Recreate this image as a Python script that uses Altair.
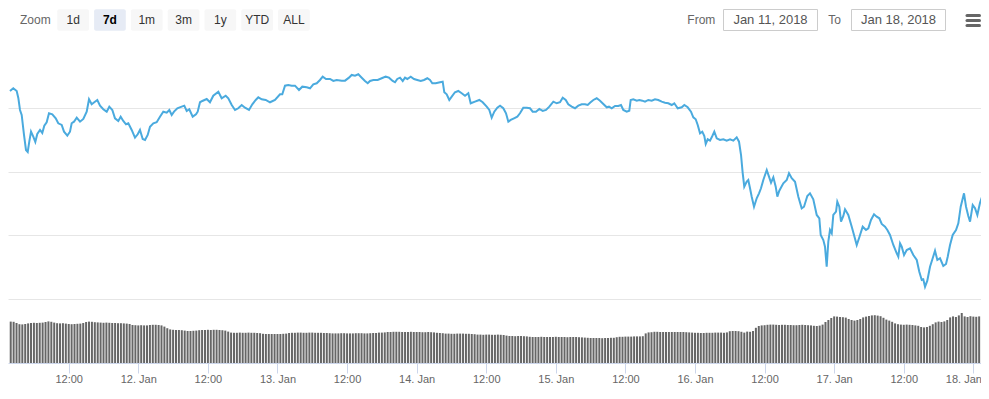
import altair as alt
import pandas as pd

FONT = "Liberation Sans"
BASE_MS = 1515628800000  # 2018-01-11 00:00 UTC
HOUR_MS = 3600000

# ---- price series: hours since 11 Jan 00:00 UTC, price ----
HOURS = [
    1.87, 2.44, 3.03, 3.31, 3.60, 3.89, 4.29, 4.63, 4.93, 5.20,
    5.50, 5.89, 6.24, 6.58, 7.05, 7.44, 7.79, 8.20, 8.60, 9.17,
    9.76, 10.20, 10.79, 11.19, 11.76, 12.22, 12.51, 12.91, 13.38, 13.95,
    14.52, 15.10, 15.50, 15.96, 16.41, 16.93, 17.40, 17.96, 18.55, 19.00,
    19.52, 19.98, 20.55, 20.96, 21.41, 21.88, 22.28, 22.86, 23.43, 23.90,
    24.29, 24.76, 25.16, 25.62, 26.02, 26.59, 27.17, 27.74, 28.31, 28.90,
    29.35, 29.76, 30.16, 30.73, 31.48, 31.93, 32.35, 32.79, 33.38, 33.95,
    34.24, 34.64, 35.04, 35.80, 36.36, 36.93, 37.80, 38.38, 39.07, 39.52,
    40.11, 40.68, 41.24, 41.83, 42.40, 43.09, 43.66, 44.25, 44.69, 45.28,
    45.97, 46.71, 47.57, 48.44, 48.83, 49.30, 49.87, 50.45, 51.02, 51.71,
    52.28, 53.04, 53.61, 54.18, 54.77, 55.33, 55.80, 56.37, 57.06, 57.63,
    58.21, 59.08, 59.65, 60.33, 60.80, 61.37, 61.94, 62.53, 63.09, 63.56,
    63.96, 64.53, 65.28, 65.97, 66.66, 67.23,
    67.87, 68.27, 68.66, 69.13, 69.60, 69.99, 70.39, 70.98, 71.54, 72.11,
    72.70, 73.27, 73.84, 74.30, 74.70, 75.29, 76.03, 76.49, 76.77, 77.18,
    77.63, 78.05, 78.61, 79.18, 79.77, 80.34, 80.91, 81.32, 82.06, 82.81,
    83.39, 84.08, 84.53, 84.94, 85.39, 85.91, 86.38, 86.94, 87.41, 87.81,
    88.22, 88.79, 89.36, 89.82, 90.39, 90.98, 91.55, 92.01, 92.58, 93.15,
    93.74, 94.31, 94.88, 95.57, 96.15, 96.72, 97.19, 97.71, 98.15, 98.74,
    99.31, 99.88, 100.46, 101.03,
    101.50, 101.90, 102.47, 103.05, 103.62, 104.19, 104.78, 105.17, 105.64, 106.21,
    106.78, 107.24, 107.64, 108.22, 108.67, 108.91, 109.36, 109.95, 110.40, 110.91,
    111.38, 111.95, 112.54, 113.10, 113.67, 114.26, 114.83, 115.40, 115.98, 116.43,
    117.02, 117.71, 118.16, 118.74, 119.31, 119.71, 120.12, 120.47, 120.87, 121.26,
    121.61, 121.85, 122.19, 122.59, 122.99, 123.33, 123.75, 124.31, 124.88, 125.47,
    126.04, 126.61, 127.19, 127.59, 127.94, 128.23, 128.50, 128.92, 129.19, 129.49,
    129.78, 130.18, 130.64, 131.04, 131.38, 131.78, 132.37, 132.76, 133.11, 133.51,
    133.92, 134.20, 134.54,
    135.23, 135.82, 136.21, 136.68, 137.25, 137.82, 138.40, 138.80, 139.37, 139.83,
    140.40, 140.99, 141.44, 141.68, 142.13, 142.42, 142.71, 142.99, 143.28, 143.58,
    143.85, 144.32, 144.54, 144.89, 145.18, 145.58, 145.87, 146.44, 147.03, 147.42,
    147.89, 148.34, 148.92, 149.49, 149.89, 150.35, 150.87, 151.34, 151.79, 152.20,
    152.77, 153.17, 153.63, 154.20, 154.79, 155.06, 155.36, 155.65, 156.05, 156.51,
    157.08, 157.65, 158.24, 158.68, 159.10, 159.37, 159.67, 160.06, 160.53, 160.99,
    161.39, 161.79, 162.25, 162.82, 163.29, 163.58, 163.98, 164.44, 165.01, 165.41,
    165.82, 166.39, 166.74, 167.13, 167.43, 167.89, 168.29, 168.69, 169.15, 169.72,
    170.01,
]

PRICE = [
    1453.4, 1461.9, 1453.4, 1431.4, 1393.7, 1378.0, 1315.2, 1268.1, 1261.8, 1294.1,
    1325.5, 1309.8, 1293.2, 1318.3, 1330.9, 1321.5, 1344.4, 1355.1, 1383.3, 1380.2,
    1367.6, 1351.9, 1346.6, 1325.5, 1313.0, 1325.5, 1351.9, 1356.9, 1369.5, 1356.9,
    1365.4, 1388.4, 1427.3, 1411.6, 1417.9, 1425.1, 1407.2, 1395.9, 1388.4, 1404.1,
    1393.7, 1367.6, 1359.2, 1372.7, 1359.2, 1348.8, 1351.9, 1330.9, 1306.7, 1317.4,
    1330.9, 1302.6, 1299.5, 1315.2, 1341.2, 1351.9, 1355.1, 1372.7, 1388.4, 1385.2,
    1393.7, 1378.0, 1388.4, 1399.1, 1404.1, 1407.2, 1390.6, 1395.9, 1372.7, 1380.2,
    1388.4, 1417.9, 1422.0, 1428.3, 1417.9, 1438.6, 1451.2, 1430.5, 1438.6, 1430.5,
    1409.4, 1393.7, 1399.1, 1409.4, 1400.9, 1393.7, 1411.6, 1425.1, 1433.6, 1427.3,
    1425.1, 1417.9, 1425.1, 1443.0, 1443.0, 1470.0, 1472.2, 1470.0, 1470.0, 1456.5,
    1466.9, 1465.0, 1461.9, 1474.4, 1477.6, 1487.9, 1498.3, 1491.1, 1491.1, 1484.8,
    1487.9, 1485.8, 1485.8, 1495.2, 1503.7, 1501.5, 1505.8, 1495.2, 1484.8, 1477.6,
    1484.8, 1487.9, 1487.9, 1493.3, 1498.3, 1495.2,
    1484.8, 1480.7, 1491.1, 1495.2, 1484.8, 1495.2, 1491.1, 1498.3, 1491.1, 1487.9,
    1484.8, 1487.9, 1493.3, 1487.9, 1477.6, 1477.6, 1480.7, 1482.6, 1449.3, 1443.0,
    1425.1, 1435.5, 1449.3, 1453.4, 1446.2, 1438.6, 1446.2, 1414.7, 1419.8, 1425.1,
    1417.9, 1404.1, 1393.7, 1369.5, 1388.4, 1400.9, 1407.2, 1399.1, 1383.3, 1356.9,
    1362.3, 1367.6, 1372.7, 1383.3, 1400.9, 1400.9, 1399.1, 1388.4, 1388.4, 1396.8,
    1390.6, 1393.7, 1404.1, 1419.8, 1414.7, 1417.9, 1432.3, 1425.1, 1411.6, 1404.1,
    1399.1, 1407.2, 1411.6, 1411.6,
    1409.4, 1416.6, 1425.1, 1430.5, 1422.9, 1412.6, 1402.2, 1404.1, 1399.1, 1406.3,
    1406.3, 1409.4, 1393.7, 1388.4, 1391.5, 1425.1, 1427.3, 1422.9, 1425.1, 1422.9,
    1419.8, 1425.1, 1422.9, 1427.3, 1425.1, 1419.8, 1416.6, 1414.7, 1409.4, 1414.7,
    1399.1, 1402.2, 1409.4, 1402.2, 1388.4, 1370.8, 1364.5, 1346.6, 1320.5, 1325.5,
    1312.0, 1286.9, 1301.7, 1297.3, 1312.0, 1325.5, 1304.8, 1299.5, 1301.7, 1297.3,
    1301.7, 1297.3, 1307.9, 1294.1, 1252.3, 1194.9, 1152.8, 1168.5, 1173.8, 1147.7,
    1121.4, 1089.9, 1116.3, 1132.0, 1147.7, 1173.8, 1205.2, 1184.2, 1165.3, 1182.3,
    1152.8, 1121.4, 1140.2,
    1163.4, 1173.8, 1194.9, 1179.2, 1168.5, 1121.4, 1084.9, 1089.9, 1123.6, 1132.0,
    1113.2, 1063.9, 1053.5, 1001.0, 985.3, 964.3, 901.5, 980.0, 1016.7, 1006.4,
    1063.9, 1074.2, 1105.6, 1089.9, 1042.8, 1060.7, 1081.8, 1063.9, 1027.1, 1001.0,
    969.6, 993.8, 1027.1, 1016.7, 1022.1, 1048.2, 1066.1, 1058.5, 1053.5, 1035.6,
    1027.1, 1016.7, 1001.0, 969.6, 943.6, 932.9, 975.0, 964.3, 938.2, 953.9,
    959.3, 938.2, 922.5, 885.8, 859.7, 861.9, 838.6, 857.5, 901.5, 927.9,
    951.7, 922.5, 927.9, 903.7, 909.9, 932.9, 969.6, 1001.0, 1016.7, 1037.8,
    1089.9, 1132.0, 1089.9, 1060.7, 1042.8, 1095.3, 1084.9, 1063.9, 1102.5, 1132.0,
    1119.5,
]

# ---- volume columns: one every 30 minutes from 11 Jan 02:00 UTC ----
VOL_START_H = 2.0
VOL_STEP_H = 0.5
VOLUME = [
    2070, 2060, 2000, 1940, 1930, 1950, 1980, 2000, 2010, 2000,
    2010, 2020, 2050, 2080, 2060, 2020, 1990, 1980, 1990, 1970,
    1950, 1940, 1950, 1960, 1970, 2000, 2050, 2070, 2060, 2040,
    2030, 2020, 2010, 2020, 2010, 2000, 2000, 1990, 1990, 1980,
    1970, 1950, 1900, 1890, 1880, 1890, 1880, 1880, 1900, 1910,
    1910, 1900, 1880, 1820, 1740, 1680, 1660, 1650, 1650, 1640,
    1620, 1600, 1600, 1610, 1620, 1640, 1650, 1650, 1660, 1650,
    1660, 1660, 1650, 1640, 1620, 1570, 1520, 1510, 1510, 1520,
    1510, 1510, 1520, 1510, 1510, 1500, 1490, 1460, 1450, 1450,
    1450, 1450, 1450, 1450, 1460, 1470, 1500, 1510, 1510, 1520,
    1520, 1510, 1510, 1520, 1520, 1510, 1510, 1510, 1500, 1500,
    1490, 1480, 1480, 1480, 1490, 1490, 1480, 1480, 1480, 1490,
    1490, 1490, 1480, 1480, 1490, 1500, 1500, 1520, 1520, 1530,
    1550, 1550, 1560, 1560, 1560, 1550, 1550, 1550, 1560, 1550,
    1550, 1550, 1540, 1540, 1550, 1540, 1530, 1510, 1500, 1490,
    1470, 1470, 1460, 1460, 1470, 1470, 1470, 1460, 1460, 1450,
    1440, 1420, 1420, 1410, 1420, 1420, 1410, 1410, 1420, 1410,
    1400, 1370, 1350, 1350, 1340, 1350, 1350, 1340, 1330, 1310,
    1300, 1300, 1300, 1310, 1300, 1300, 1300, 1300, 1310, 1300,
    1300, 1300, 1290, 1300, 1300, 1300, 1290, 1280, 1270, 1260,
    1250, 1250, 1250, 1250, 1240, 1250, 1250, 1260, 1260, 1290,
    1310, 1310, 1320, 1320, 1320, 1330, 1330, 1330, 1340, 1480,
    1530, 1540, 1560, 1560, 1550, 1550, 1550, 1550, 1550, 1550,
    1550, 1550, 1550, 1540, 1530, 1520, 1510, 1510, 1500, 1500,
    1510, 1510, 1510, 1520, 1520, 1520, 1510, 1530, 1590, 1600,
    1600, 1590, 1560, 1520, 1570, 1560, 1600, 1760, 1850, 1880,
    1890, 1910, 1920, 1920, 1910, 1900, 1910, 1910, 1900, 1900,
    1890, 1890, 1900, 1910, 1900, 1890, 1880, 1860, 1850, 1870,
    1920, 2050, 2150, 2250, 2330, 2320, 2300, 2290, 2270, 2200,
    2150, 2120, 2150, 2200, 2280, 2320, 2350, 2380, 2390, 2370,
    2340, 2260, 2170, 2120, 2060, 1980, 1940, 1920, 1910, 1920,
    1910, 1900, 1880, 1860, 1800, 1780, 1800, 1860, 1940, 2030,
    2070, 2050, 2080, 2150, 2280, 2330, 2300, 2380, 2500, 2330,
    2300, 2340, 2320, 2310, 2330, 2320, 2340,
]

TICK_HOURS = [12, 24, 36, 48, 60, 72, 84, 96, 108, 120, 132, 144, 156, 168]
PRICE_GRID = [800, 1000, 1200, 1400]

BUTTONS = ["1d", "7d", "1m", "3m", "1y", "YTD", "ALL"]
SELECTED = "7d"
ZOOM_LABEL = "Zoom"
RANGE_LABELS = ["From", "To"]
RANGE_DATES = ["Jan 11, 2018", "Jan 18, 2018"]

assert len(HOURS) == len(PRICE)

line_df = pd.DataFrame({"t": [BASE_MS + h * HOUR_MS for h in HOURS], "price": PRICE})
vol_df = pd.DataFrame({
    "t": [BASE_MS + (VOL_START_H + VOL_STEP_H * i) * HOUR_MS for i in range(len(VOLUME))],
    "vol": VOLUME,
})

# ---- layout: the svg must stay within the 973px-wide page body ----
W, H = 973, 355
X_RANGE = [0, 977]  # plot runs a few px past the visible edge, as in the original
x_scale = alt.Scale(type="utc", domain=[BASE_MS + 1.53 * HOUR_MS, BASE_MS + 170.01 * HOUR_MS],
                    range=X_RANGE, nice=False, padding=0)

x_axis = alt.Axis(
    values=[BASE_MS + h * HOUR_MS for h in TICK_HOURS],
    labelExpr="utchours(datum.value) == 0 ? utcFormat(datum.value, '%-d. %b') : utcFormat(datum.value, '%H:%M')",
    title=None, grid=False,
    domainColor="#ccd6eb", tickColor="#ccd6eb", tickSize=10,
    labelPadding=0, labelFont=FONT, labelFontSize=11, labelColor="#666666",
    labelOverlap=False, labelFlush=False,
    labelOffset={"condition": {"test": "datum.value >= 1516233600000", "value": -10}, "value": 0},
)

volume = alt.Chart(vol_df).mark_bar(size=2, color="#666666", clip=True).encode(
    x=alt.X("t:T", scale=x_scale, axis=x_axis),
    y=alt.Y("vol:Q", scale=alt.Scale(domain=[0, 3250], range=[355, 290], nice=False, zero=True), axis=None),
)

line = alt.Chart(line_df).mark_line(color="#4aaade", strokeWidth=2, clip=True).encode(
    x=alt.X("t:T", scale=x_scale, axis=None),
    y=alt.Y("price:Q", scale=alt.Scale(domain=[800, 1600], range=[291, 36.3], nice=False, zero=False),
            axis=alt.Axis(values=PRICE_GRID, grid=True, gridColor="#e6e6e6", gridWidth=1,
                          labels=False, ticks=False, domain=False, title=None)),
)

# range selector buttons
btn_df = pd.DataFrame({"label": BUTTONS})
btn_df["x0"] = [49.3 + 36.8 * i for i in range(len(BUTTONS))]
btn_df["x1"] = btn_df["x0"] + 31.7
btn_df["xc"] = btn_df["x0"] + 15.85
btn_df["sel"] = btn_df["label"] == SELECTED

btn_rect = alt.Chart(btn_df).mark_rect(cornerRadius=2).encode(
    x=alt.X("x0:Q", scale=None, axis=None), x2="x1:Q",
    y=alt.value(1.3), y2=alt.value(22.7),
    color=alt.condition("datum.sel", alt.value("#e6ebf5"), alt.value("#f7f7f7")),
)
btn_text = alt.Chart(btn_df).transform_filter("!datum.sel").mark_text(
    font=FONT, fontSize=12, color="#333333", baseline="middle", align="center"
).encode(x=alt.X("xc:Q", scale=None, axis=None), y=alt.value(12), text="label:N")
btn_text_sel = alt.Chart(btn_df).transform_filter("datum.sel").mark_text(
    font=FONT, fontSize=12, color="#000000", fontWeight="bold", baseline="middle", align="center"
).encode(x=alt.X("xc:Q", scale=None, axis=None), y=alt.value(12), text="label:N")

zoom_text = alt.Chart(pd.DataFrame({"label": [ZOOM_LABEL]})).mark_text(
    font=FONT, fontSize=12, color="#666666", baseline="middle", align="left"
).encode(x=alt.value(12), y=alt.value(12), text="label:N")

# date range inputs
inp_df = pd.DataFrame({"label": RANGE_LABELS, "date": RANGE_DATES})
inp_df["lx"] = [679.3, 820.3]
inp_df["x0"] = [715.5, 843.5]
inp_df["x1"] = [809.5, 937.5]
inp_df["xc"] = (inp_df["x0"] + inp_df["x1"]) / 2

inp_box = alt.Chart(inp_df).mark_rect(fill="white", stroke="#cccccc", strokeWidth=1).encode(
    x=alt.X("x0:Q", scale=None, axis=None), x2="x1:Q",
    y=alt.value(1.5), y2=alt.value(22.5),
)
inp_label = alt.Chart(inp_df).mark_text(
    font=FONT, fontSize=12, color="#666666", baseline="middle", align="left"
).encode(x=alt.X("lx:Q", scale=None, axis=None), y=alt.value(12), text="label:N")
inp_date = alt.Chart(inp_df).mark_text(
    font=FONT, fontSize=13, color="#555555", baseline="middle", align="center"
).encode(x=alt.X("xc:Q", scale=None, axis=None), y=alt.value(12), text="date:N")

# menu icon
menu_df = pd.DataFrame({"y": [7.5, 12.5, 17.5]})
menu = alt.Chart(menu_df).mark_rule(strokeWidth=3, color="#666666", strokeCap="round").encode(
    x=alt.value(959.0), x2=alt.value(971.5),
    y=alt.Y("y:Q", scale=None, axis=None),
)

chart = alt.layer(
    volume, line, btn_rect, btn_text, btn_text_sel, zoom_text,
    inp_box, inp_label, inp_date, menu,
).resolve_scale(x="independent", y="independent").properties(
    width=W, height=H,
    autosize=alt.AutoSizeParams(type="none"),
    padding={"left": 0, "top": 0, "right": 0, "bottom": 30},
).configure_view(stroke=None)

chart.save("out.html", embed_options={"renderer": "svg", "actions": False})
